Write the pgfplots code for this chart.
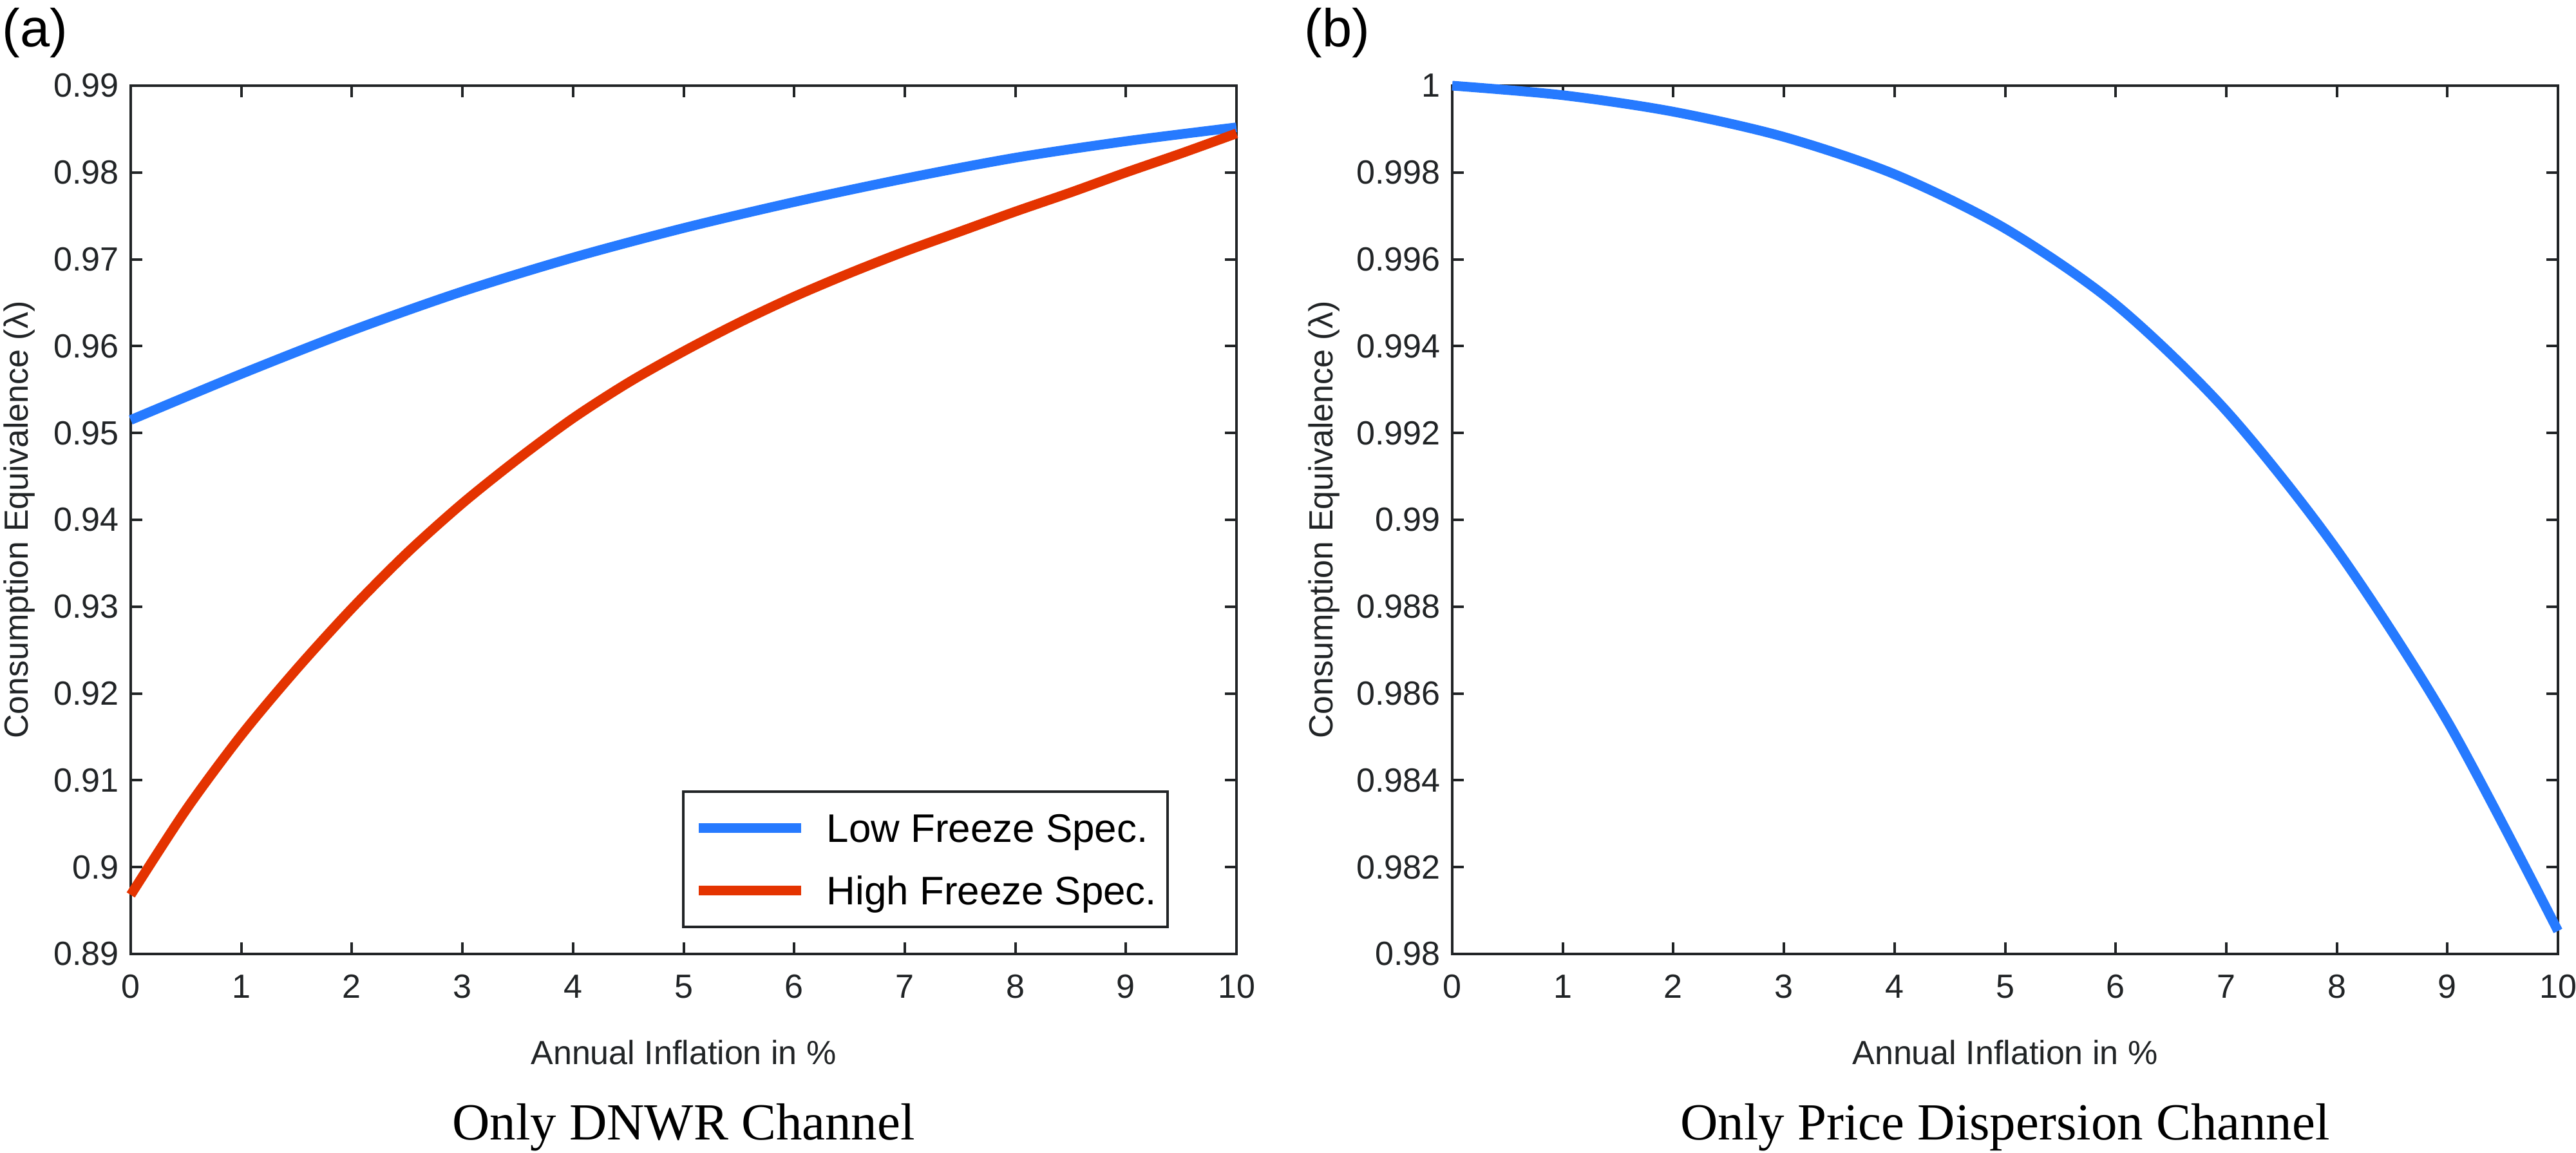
\documentclass[border=0pt]{standalone}
\usepackage{fontspec}
\newfontfamily\arialfont{Liberation Sans}
\newfontfamily\capserif{Liberation Serif}
\usepackage{pgfplots}
\usepackage{pgfplotstable}
\pgfplotsset{compat=1.18}
\definecolor{lowblue}{RGB}{38,122,255}
\definecolor{highred}{RGB}{228,51,0}
\definecolor{axcol}{RGB}{33,36,38}

\pgfplotstableread{
x y
0 0.9515
1 0.9568
2 0.9618
3 0.9663
4 0.9702
5 0.9736
6 0.9766
7 0.9793
8 0.9817
9 0.9836
10 0.9852
}\lowtab

\pgfplotstableread{
x y
0 0.8968
0.5 0.9066
1 0.9152
1.5 0.9228
2 0.9298
2.5 0.9362
3 0.9419
3.5 0.9470
4 0.9517
4.5 0.9558
5 0.9594
5.5 0.9627
6 0.9657
6.5 0.9684
7 0.9709
7.5 0.9732
8 0.9755
8.5 0.9777
9 0.9800
9.5 0.9822
10 0.9845
}\hightab

\pgfplotstableread{
x y
0 1.00000
1 0.99978
2 0.99940
3 0.99882
4 0.99796
5 0.99671
6 0.99496
7 0.99251
8 0.98931
9 0.98536
10 0.98053
}\disptab

\pgfplotsset{
  myax/.style={
    scale only axis, width=171.7mm, height=134.8mm,
    anchor=south west,
    xmin=0, xmax=10, xtick={0,1,2,3,4,5,6,7,8,9,10},
    tick align=inside, major tick length=1.8mm,
    axis line style={line width=0.4mm, draw=axcol},
    every tick/.style={line width=0.4mm, draw=axcol},
    tick label style={font=\arialfont\fontsize{14.8}{17}\selectfont, text=axcol},
    /pgf/number format/assume math mode=true,
    scaled y ticks=false,
    label style={font=\arialfont\fontsize{14.8}{17}\selectfont, text=axcol},
    xticklabel style={yshift=-2mm},
    yticklabel style={xshift=-0.6mm},
    xlabel={Annual Inflation in \%},
    xlabel style={at={(axis description cs:0.5,0)}, anchor=base, yshift=-17.1mm},
    ylabel={Consumption Equivalence (λ)},
    clip=false,
  }
}

\begin{document}
\begin{tikzpicture}
\path[use as bounding box] (0,0) rectangle (400mm,178.9mm);

\begin{axis}[myax, at={(20.3mm,30.8mm)},
  ymin=0.89, ymax=0.99,
  ytick={0.89,0.90,0.91,0.92,0.93,0.94,0.95,0.96,0.97,0.98,0.99},
  yticklabel style={/pgf/number format/fixed, /pgf/number format/precision=2},
  ylabel style={at={(axis description cs:-0.0926,0.5)}, anchor=base},
  legend cell align=left,
  legend image code/.code={\draw[#1, line width=1.5mm, line cap=butt] (0mm,0mm) -- (15.9mm,0mm);},
  legend style={at={(axis description cs:0.4985,0.0297)}, anchor=south west,
    draw=axcol, line width=0.4mm, fill=white,
    font=\arialfont\fontsize{17.6}{20}\selectfont,
    inner xsep=1.7mm, inner ysep=2.1mm,
    row sep=2.7mm, column sep=3.2mm,
    nodes={inner sep=0pt, text height=5.75mm, text depth=1.3mm}},
]
\addplot[lowblue, line width=1.5mm, smooth, line join=round] table {\lowtab};
\addlegendentry{Low Freeze Spec.}
\addplot[highred, line width=1.5mm, smooth, line join=round] table {\hightab};
\addlegendentry{High Freeze Spec.}
\end{axis}

\begin{axis}[myax, at={(225.5mm,30.8mm)},
  ymin=0.98, ymax=1,
  ytick={0.98,0.982,0.984,0.986,0.988,0.99,0.992,0.994,0.996,0.998,1},
  yticklabel style={/pgf/number format/fixed, /pgf/number format/precision=3},
  ylabel style={at={(axis description cs:-0.1083,0.5)}, anchor=base},
]
\addplot[lowblue, line width=1.5mm, smooth, line join=round] table {\disptab};
\end{axis}

\node[anchor=base west, inner sep=0pt, font=\arialfont\fontsize{23.6}{28}\selectfont, text=black] at (0.3mm,171.6mm) {(a)};
\node[anchor=base west, inner sep=0pt, font=\arialfont\fontsize{23.6}{28}\selectfont, text=black] at (202.5mm,171.6mm) {(b)};
\node[anchor=base, inner sep=0pt, font=\capserif\fontsize{23}{27}\selectfont] at (106.15mm,2.0mm) {Only DNWR Channel};
\node[anchor=base, inner sep=0pt, font=\capserif\fontsize{23}{27}\selectfont] at (311.35mm,2.0mm) {Only Price Dispersion Channel};
\end{tikzpicture}
\end{document}
